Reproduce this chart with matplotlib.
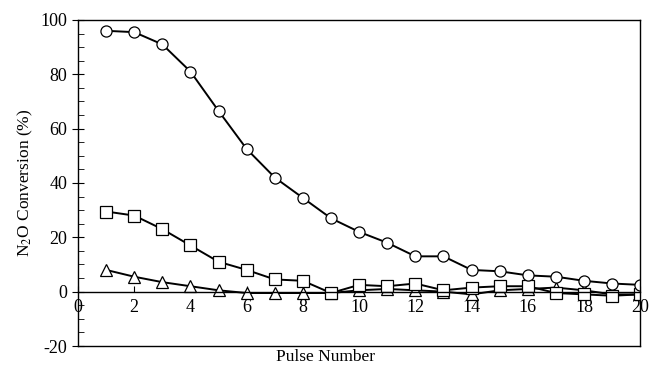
import matplotlib
matplotlib.use("Agg")
from matplotlib import pyplot as plt
from matplotlib.ticker import MultipleLocator

# pulse numbers
pulses = list(range(1, 21))

# N2O conversion (%) for each series
circles = [96, 95.5, 91, 81, 66.5, 52.5, 42, 34.5, 27, 22,
           18, 13, 13, 8, 7.5, 6, 5.5, 4, 3, 2.5]
squares = [29.5, 28, 23, 17, 11, 8, 4.5, 4, -0.5, 2.5,
           2, 3, 0.5, 1.5, 2, 2, -0.5, -1, -1.5, -1]
triangles = [8, 5.5, 3.5, 2, 0.5, -0.5, -0.5, -0.5, -0.5, 0.5,
             1, 0.5, 0, -1, 0.5, 1, 1.5, 0.5, -1, -1]

plt.rcParams['font.family'] = ['Liberation Serif', 'DejaVu Serif']
plt.rcParams['mathtext.fontset'] = 'stix'
plt.rcParams['axes.unicode_minus'] = False

fig = plt.figure(figsize=(6.5, 3.69), dpi=100)
ax = fig.add_axes([0.12, 0.0623, 0.865, 0.8837])

style = dict(color='black', linewidth=1.4, markersize=8,
             markerfacecolor='white', markeredgecolor='black', markeredgewidth=0.9)
ax.plot(pulses, triangles, marker='^', **style)
ax.plot(pulses, squares, marker='s', **style)
ax.plot(pulses, circles, marker='o', **style)

ax.set_xlim(0, 20)
ax.set_ylim(-20, 100)

# x axis sits at zero, box line kept at the bottom
ax.spines['bottom'].set_position(('data', 0))
ax.plot([0, 1], [0, 0], transform=ax.transAxes, color='black',
        linewidth=1.0, clip_on=False)
for s in ax.spines.values():
    s.set_linewidth(1.0)

ax.xaxis.set_major_locator(MultipleLocator(2))
ax.yaxis.set_major_locator(MultipleLocator(20))
ax.yaxis.set_minor_locator(MultipleLocator(5))
ax.tick_params(axis='x', which='major', direction='in', length=4, labelsize=13, pad=5)
ax.tick_params(axis='y', which='major', direction='inout', length=8, labelsize=13)
ax.tick_params(axis='y', which='minor', direction='in', length=4)

ax.set_ylabel("N$_2$O Conversion (%)", fontsize=12.5)
ax.set_xlabel("Pulse Number", fontsize=12.5)
ax.xaxis.set_label_coords(0.5, 0.012, transform=fig.transFigure)
ax.xaxis.label.set_va('bottom')

fig.savefig("out.png", dpi=100)
